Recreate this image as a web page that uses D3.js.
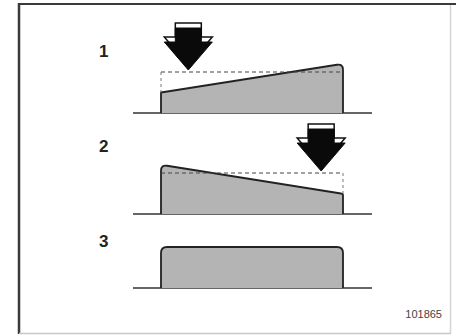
<!DOCTYPE html>
<html>
<head>
<meta charset="utf-8">
<script src="https://cdn.jsdelivr.net/npm/d3@7"></script>
<style>
  body { margin: 0; background: #fff; }
  svg { display: block; }
</style>
</head>
<body>
<div id="chart"></div>
<script>
// panel labels and shape heights (1 = reference level)
var panels = ["1", "2", "3"];
var leftHeights = [0.5, 1.2, 1.0];
var rightHeights = [1.2, 0.5, 1.0];
var refLevel = [1.0, 1.0, null];
var arrowAt = [0.15, 0.88, null];    // where the arrow presses, fraction of width
var figureCode = "101865";

(function() {
  var width = 456, height = 335;
  var baselines = [113, 214, 288];
  var labelY = [57, 152, 247];

  var svg = d3.select("#chart").append("svg")
    .attr("width", width)
    .attr("height", height);

  // frame
  svg.append("line").attr("x1", 19).attr("x2", 19).attr("y1", 3).attr("y2", 334)
    .attr("stroke", "#3a3a3a").attr("stroke-width", 2.5);
  svg.append("line").attr("x1", 18).attr("x2", 456).attr("y1", 4).attr("y2", 4)
    .attr("stroke", "#3a3a3a").attr("stroke-width", 2);
  svg.append("line").attr("x1", 450.5).attr("x2", 450.5).attr("y1", 5).attr("y2", 334)
    .attr("stroke", "#d4d4d4").attr("stroke-width", 1.5);
  svg.append("line").attr("x1", 19).attr("x2", 451).attr("y1", 333.5).attr("y2", 333.5)
    .attr("stroke", "#c8c8c8").attr("stroke-width", 1.5);

  var x = d3.scaleLinear().domain([0, 1]).range([161, 343]);
  var h = d3.scaleLinear().domain([0, 1]).range([0, 41]);

  function shapePath(base, hl, hr) {
    var x0 = x(0), x1 = x(1);
    var t0 = base - h(hl), t1 = base - h(hr);
    var r = 6;
    var p = d3.path();
    p.moveTo(x0, base);
    if (hl >= hr) {
      p.lineTo(x0, t0 + r);
      p.quadraticCurveTo(x0, t0, x0 + r, t0 + (t1 - t0) * r / (x1 - x0));
    } else {
      p.lineTo(x0, t0);
    }
    if (hr >= hl) {
      p.lineTo(x1 - r, t1 - (t1 - t0) * r / (x1 - x0));
      p.quadraticCurveTo(x1, t1, x1, t1 + r);
    } else {
      p.lineTo(x1 - 2, t1);
      p.quadraticCurveTo(x1, t1, x1, t1 + 2);
    }
    p.lineTo(x1, base);
    return p.toString();
  }

  function arrowPath(cx, tip) {
    var p = d3.path();
    p.moveTo(cx - 13, tip - 42);
    p.lineTo(cx + 13, tip - 42);
    p.lineTo(cx + 13, tip - 28);
    p.lineTo(cx + 24, tip - 28);
    p.lineTo(cx, tip);
    p.lineTo(cx - 24, tip - 28);
    p.lineTo(cx - 13, tip - 28);
    p.closePath();
    return p.toString();
  }

  panels.forEach(function(label, i) {
    var base = baselines[i];
    var g = svg.append("g");

    g.append("text")
      .attr("x", 99)
      .attr("y", labelY[i])
      .attr("font-family", "Liberation Sans, Arial, sans-serif")
      .attr("font-weight", "bold")
      .attr("font-size", 17)
      .attr("fill", "#222")
      .text(label);

    g.append("line")
      .attr("x1", 133).attr("x2", 372)
      .attr("y1", base).attr("y2", base)
      .attr("stroke", "#333").attr("stroke-width", 1.5);

    g.append("path")
      .attr("d", shapePath(base, leftHeights[i], rightHeights[i]))
      .attr("fill", "#b4b4b4")
      .attr("stroke", "#222")
      .attr("stroke-width", 1.8)
      .attr("stroke-linejoin", "round");

    if (refLevel[i] != null) {
      var ly = base - h(refLevel[i]);
      g.append("line")
        .attr("x1", x(0)).attr("x2", x(1))
        .attr("y1", ly).attr("y2", ly)
        .attr("stroke", "#444").attr("stroke-width", 1.2)
        .attr("stroke-dasharray", "4,3");
      // short vertical dashed drop where the shape is lower than the level
      var lowSide = leftHeights[i] < rightHeights[i] ? 0 : 1;
      var lowH = lowSide === 0 ? leftHeights[i] : rightHeights[i];
      g.append("line")
        .attr("x1", x(lowSide)).attr("x2", x(lowSide))
        .attr("y1", ly).attr("y2", base - h(lowH))
        .attr("stroke", "#777").attr("stroke-width", 1)
        .attr("stroke-dasharray", "3,3");
    }

    if (arrowAt[i] != null) {
      var cx = x(arrowAt[i]);
      var tip = base - h(refLevel[i]) - 2;
      g.append("path")
        .attr("d", arrowPath(cx, tip - 5))
        .attr("fill", "#fff")
        .attr("stroke", "#111")
        .attr("stroke-width", 1.5);
      g.append("path")
        .attr("d", arrowPath(cx, tip))
        .attr("fill", "#0a0a0a")
        .attr("stroke", "#0a0a0a")
        .attr("stroke-width", 1);
    }
  });

  svg.append("text")
    .attr("x", 442)
    .attr("y", 318)
    .attr("text-anchor", "end")
    .attr("font-family", "Liberation Sans Narrow, Arial Narrow, Liberation Sans, sans-serif")
    .attr("font-size", 11)
    .attr("fill", "#444")
    .text(figureCode);
})();
</script>
</body>
</html>
